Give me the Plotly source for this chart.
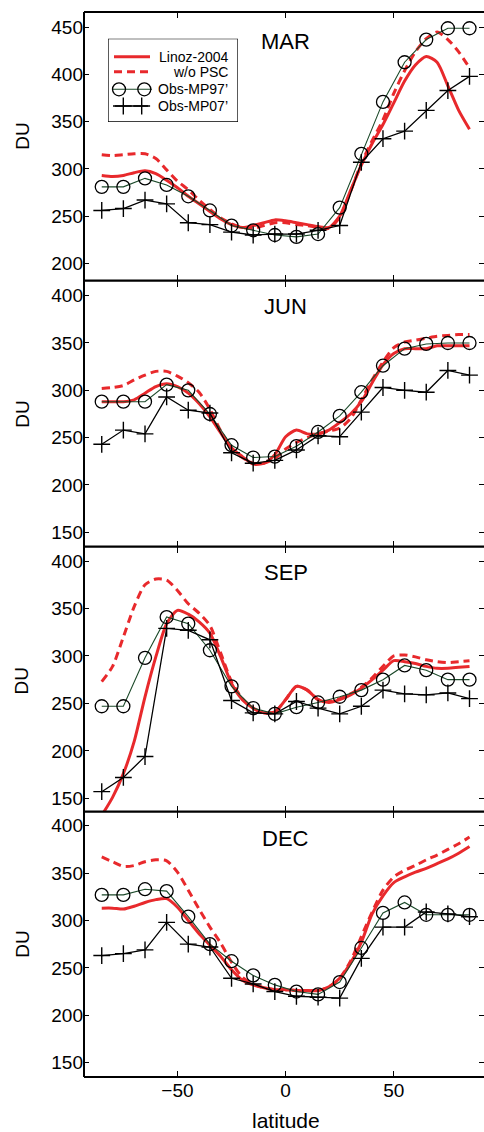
import plotly.graph_objects as go

# Latitude grids (degrees)
LAT_OBS = [-85, -75, -65, -55, -45, -35, -25, -15, -5, 5, 15, 25, 35, 45, 55, 65, 75, 85]
LAT_MODEL = [-85, -80, -75, -70, -65, -60, -55, -50, -45, -40, -35, -30, -25, -20, -15, -10,
             -5, 0, 5, 10, 15, 20, 25, 30, 35, 40, 45, 50, 55, 60, 65, 70, 75, 80, 85]

MONTHS = ["MAR", "JUN", "SEP", "DEC"]

# Column ozone (DU)
MAR_LINOZ = [293, 292, 293, 296, 298, 295, 288, 280, 271, 263, 255, 247, 241, 238, 240, 243,
             246, 245, 243, 241, 239, 238, 250, 277, 304, 327, 347, 370, 393, 410, 419, 413, 388, 362, 342]
MAR_NOPSC = [315, 314, 315, 316, 316, 311, 299, 287, 278, 267, 257, 248, 242, 238, 237, 240,
             243, 243, 241, 240, 238, 237, 249, 276, 306, 330, 352, 380, 404, 424, 438, 445, 437, 424, 407]
MAR_MP97 = [281, 281, 290, 283, 271, 256, 240, 235, 230, 228, 231, 259, 316, 371, 413, 437, 449, 449]
MAR_MP07 = [256, 258, 267, 263, 243, 241, 233, 230, 231, 231, 235, 240, 307, 332, 340, 362, 383, 398]

JUN_LINOZ = [288, 288, 288, 290, 297, 304, 307, 304, 297, 286, 272, 255, 239, 230, 222, 223,
             232, 251, 258, 254, 254, 258, 266, 275, 288, 308, 327, 339, 344, 344, 344, 347, 347, 347, 347]
JUN_NOPSC = [302, 303, 305, 311, 316, 320, 320, 315, 308, 298, 280, 257, 239, 229, 223, 223,
             228, 238, 245, 250, 254, 257, 260, 270, 290, 311, 330, 345, 351, 353, 355, 357, 358, 359, 359]
JUN_MP97 = [288, 288, 288, 306, 300, 275, 242, 229, 230, 241, 256, 273, 298, 326, 344, 349, 350, 350]
JUN_MP07 = [243, 258, 254, 293, 279, 276, 234, 223, 226, 237, 252, 251, 277, 303, 300, 298, 321, 316]

SEP_LINOZ = [132, 151, 176, 210, 257, 299, 334, 348, 344, 336, 324, 299, 271, 254, 245, 240,
             241, 254, 268, 264, 254, 251, 254, 259, 266, 275, 285, 295, 294, 292, 289, 287, 287, 288, 289]
SEP_NOPSC = [273, 289, 320, 352, 375, 381, 380, 369, 355, 345, 332, 303, 273, 255, 245, 240,
             241, 254, 268, 264, 254, 252, 255, 260, 267, 277, 289, 300, 301, 299, 296, 294, 293, 294, 295]
SEP_MP97 = [247, 247, 298, 341, 334, 306, 268, 245, 239, 246, 251, 257, 264, 275, 290, 285, 275, 275]
SEP_MP07 = [157, 172, 194, 329, 327, 317, 253, 240, 239, 252, 245, 239, 247, 264, 260, 259, 261, 255]

DEC_LINOZ = [313, 313, 312, 315, 319, 322, 323, 314, 300, 286, 274, 262, 248, 237, 232, 229,
             227, 227, 226, 226, 226, 230, 239, 255, 277, 307, 326, 340, 346, 351, 355, 360, 365, 371, 378]
DEC_NOPSC = [367, 362, 357, 358, 362, 364, 363, 351, 332, 312, 293, 276, 256, 240, 233, 229,
             227, 227, 226, 226, 226, 230, 239, 257, 283, 309, 332, 346, 353, 358, 364, 369, 375, 381, 388]
DEC_MP97 = [327, 327, 333, 331, 304, 275, 257, 242, 232, 225, 222, 235, 271, 308, 319, 306, 306, 306]
DEC_MP07 = [263, 265, 269, 298, 275, 272, 239, 233, 225, 220, 219, 218, 260, 293, 293, 309, 307, 304]

LEGEND_NAMES = ["Linoz-2004", "w/o PSC", "Obs-MP97\u2019", "Obs-MP07\u2019"]
Y_TICKS = [[200, 250, 300, 350, 400, 450], [150, 200, 250, 300, 350, 400],
           [150, 200, 250, 300, 350, 400], [150, 200, 250, 300, 350, 400]]
X_TICKS = [-50, 0, 50]

RED = "#e8292c"
GREEN_LINE = "#1c4a2a"
FONT = "Liberation Sans, Arial, sans-serif"

W, H = 484, 1132
M_L, M_R, M_T, M_B = 84, 0, 12, 55
PLOT_H = H - M_T - M_B

def py(y_px):
    """page pixel row -> paper fraction"""
    return (H - M_B - y_px) / PLOT_H

BOUNDS = [1.0, py(280.7), py(546.7), py(811.7), 0.0]
Y_DOMAINS = [[BOUNDS[i + 1], BOUNDS[i]] for i in range(4)]
Y_RANGES = [[181.6, 466.2], [134.8, 415.8], [135.9, 415.1], [134.8, 414.8]]
X_RANGE = [-93.2, 91.7]

panels = [
    (MAR_LINOZ, MAR_NOPSC, MAR_MP97, MAR_MP07),
    (JUN_LINOZ, JUN_NOPSC, JUN_MP97, JUN_MP07),
    (SEP_LINOZ, SEP_NOPSC, SEP_MP97, SEP_MP07),
    (DEC_LINOZ, DEC_NOPSC, DEC_MP97, DEC_MP07),
]

fig = go.Figure()

for i, (linoz, nopsc, mp97, mp07) in enumerate(panels):
    xa = "x" if i == 0 else f"x{i + 1}"
    ya = "y" if i == 0 else f"y{i + 1}"
    common = dict(xaxis=xa, yaxis=ya, showlegend=False, hoverinfo="skip")
    fig.add_trace(go.Scatter(x=LAT_MODEL, y=nopsc, mode="lines",
                             line=dict(color=RED, width=3, dash="8px,5px", shape="spline", smoothing=0.7),
                             **common))
    fig.add_trace(go.Scatter(x=LAT_MODEL, y=linoz, mode="lines",
                             line=dict(color=RED, width=3, shape="spline", smoothing=0.7),
                             **common))
    fig.add_trace(go.Scatter(x=LAT_OBS, y=mp97, mode="lines+markers",
                             line=dict(color=GREEN_LINE, width=1.1),
                             marker=dict(symbol="circle-open", size=13, color="black",
                                         line=dict(width=1.3)),
                             **common))
    fig.add_trace(go.Scatter(x=LAT_OBS, y=mp07, mode="lines+markers",
                             line=dict(color="black", width=1.3),
                             marker=dict(symbol="cross-thin-open", size=12, color="black",
                                         line=dict(width=1.4)),
                             **common))

layout_axes = {}
for i in range(4):
    xname = "xaxis" if i == 0 else f"xaxis{i + 1}"
    yname = "yaxis" if i == 0 else f"yaxis{i + 1}"
    anchor_y = "y" if i == 0 else f"y{i + 1}"
    anchor_x = "x" if i == 0 else f"x{i + 1}"
    layout_axes[xname] = dict(
        domain=[0, 1], range=X_RANGE, anchor=anchor_y,
        showline=False, mirror="ticks",
        ticks="inside", ticklen=6, tickwidth=1.3, tickcolor="black",
        tickvals=X_TICKS, showticklabels=(i == 3), showgrid=False, zeroline=False,
        tickfont=dict(size=19, color="black", family=FONT),
    )
    layout_axes[yname] = dict(
        domain=Y_DOMAINS[i], range=Y_RANGES[i], anchor=anchor_x,
        showline=False, mirror="ticks",
        ticks="inside", ticklen=5, tickwidth=1.3, tickcolor="black",
        tickvals=Y_TICKS[i], showgrid=False, zeroline=False,
        tickfont=dict(size=19, color="black", family=FONT),
    )

# Legend box axes, measured in page pixels
LEG_X0, LEG_X1, LEG_Y0, LEG_Y1 = 108, 238, 38.7, 122
layout_axes["xaxis5"] = dict(domain=[(LEG_X0 - M_L) / (W - M_L - M_R), (LEG_X1 - M_L) / (W - M_L - M_R)],
                             range=[LEG_X0, LEG_X1], anchor="y5", visible=False)
layout_axes["yaxis5"] = dict(domain=[py(LEG_Y1), py(LEG_Y0)], range=[LEG_Y1, LEG_Y0],
                             anchor="x5", visible=False)

leg = dict(xaxis="x5", yaxis="y5", showlegend=False, hoverinfo="skip")
ROWS = [56.7, 71.7, 89.3, 106.0]
fig.add_trace(go.Scatter(x=[114, 150], y=[ROWS[0]] * 2, mode="lines",
                         line=dict(color=RED, width=3), **leg))
fig.add_trace(go.Scatter(x=[114, 150], y=[ROWS[1]] * 2, mode="lines",
                         line=dict(color=RED, width=3, dash="8px,5px"), **leg))
fig.add_trace(go.Scatter(x=[113, 152], y=[ROWS[2]] * 2, mode="lines",
                         line=dict(color=GREEN_LINE, width=1.1), **leg))
fig.add_trace(go.Scatter(x=[119, 144.3], y=[ROWS[2]] * 2, mode="markers",
                         marker=dict(symbol="circle-open", size=13, color="black", line=dict(width=1.3)),
                         **leg))
fig.add_trace(go.Scatter(x=[113, 148], y=[ROWS[3]] * 2, mode="lines",
                         line=dict(color="black", width=1.3), **leg))
fig.add_trace(go.Scatter(x=[123.3, 141.7], y=[ROWS[3]] * 2, mode="markers",
                         marker=dict(symbol="cross-thin-open", size=12, color="black", line=dict(width=1.4)),
                         **leg))

annotations = []
for name, row in zip(LEGEND_NAMES, ROWS):
    annotations.append(dict(x=229.5, y=row, xref="x5", yref="y5", text=name, showarrow=False,
                            xanchor="right", yanchor="middle",
                            font=dict(size=14, color="black", family=FONT)))

TITLE_ROWS = [41.3, 306.7, 572.8, 838.3]
for m, row in zip(MONTHS, TITLE_ROWS):
    annotations.append(dict(x=0, y=py(row), xref="x", yref="paper", text=m, showarrow=False,
                            xanchor="center", yanchor="middle",
                            font=dict(size=22, color="black", family=FONT)))

DU_ROWS = [136, 414, 680.8, 944]
for row in DU_ROWS:
    annotations.append(dict(x=(21.7 - M_L) / (W - M_L - M_R), y=py(row), xref="paper", yref="paper",
                            text="DU", showarrow=False, textangle=-90,
                            xanchor="center", yanchor="middle",
                            font=dict(size=19, color="black", family=FONT)))

annotations.append(dict(x=0, y=py(1120), xref="x4", yref="paper", text="latitude", showarrow=False,
                        xanchor="center", yanchor="middle",
                        font=dict(size=21, color="black", family=FONT)))

# Frame: left edge plus one horizontal rule per panel boundary
shapes = [
    dict(type="line", xref="paper", yref="paper", x0=0, x1=0, y0=0, y1=1,
         line=dict(color="black", width=2)),
]
for b in BOUNDS:
    shapes.append(dict(type="line", xref="paper", yref="paper", x0=0, x1=1, y0=b, y1=b,
                       line=dict(color="black", width=2.2)))
# legend frame
shapes.append(dict(type="rect", xref="x5", yref="y5", x0=LEG_X0, x1=LEG_X1, y0=LEG_Y0, y1=LEG_Y1,
                   line=dict(color="black", width=1.3), fillcolor="rgba(0,0,0,0)"))

fig.update_layout(
    width=W, height=H,
    margin=dict(l=M_L, r=M_R, t=M_T, b=M_B, pad=0),
    paper_bgcolor="white", plot_bgcolor="white",
    font=dict(family=FONT, color="black"),
    annotations=annotations, shapes=shapes,
    showlegend=False,
    **layout_axes,
)

fig.write_html("out.html")
